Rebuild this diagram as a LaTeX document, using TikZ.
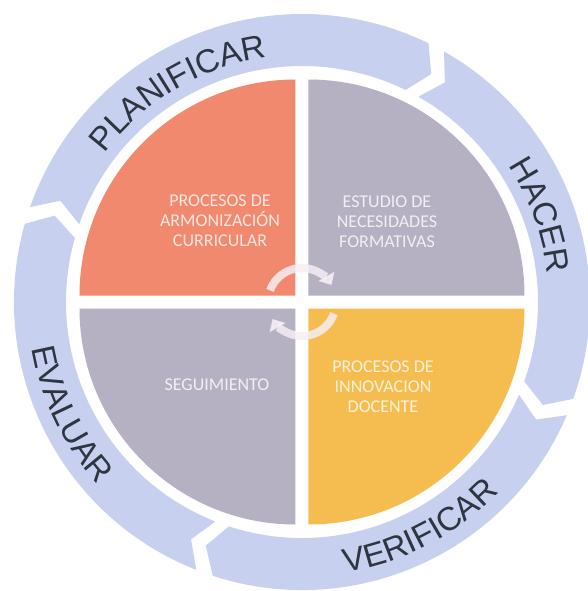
\documentclass[tikz,border=0pt]{standalone}
\usepackage{fontspec}
\usepackage{tikz}
\usetikzlibrary{arrows.meta, decorations.text}
\newfontfamily\ringfont{Liberation Sans}
\newfontfamily\quadfont{Carlito}
\definecolor{ringblue}{HTML}{C7D0EF}
\definecolor{salmonquad}{HTML}{F0896D}
\definecolor{slatequad}{HTML}{B5B1C2}
\definecolor{amberquad}{HTML}{F5BD50}
\definecolor{inkslate}{HTML}{2E3440}
\definecolor{paleloop}{HTML}{F6EEF4}

\tikzset{
  chevron/.style={fill=ringblue},
  quadlabel/.style={white, opacity=0.8, font=\quadfont\fontsize{9}{10}\selectfont, align=center},
  ringword/.style={decorate, decoration={text along path, text align=center, text color=inkslate,
      text={|\ringfont\fontsize{16.5}{18}\selectfont|#1}}},
  loopbend/.style={paleloop, opacity=0.85, line width=4pt, -{Triangle[length=5pt, width=9pt]}},
}

\begin{document}
\begin{tikzpicture}[x=0.5pt, y=0.5pt]
  % Page frame, same size as the reference
  \fill[white] (-302,-289) rectangle (286,302);
  \useasboundingbox (-302,-289) rectangle (286,302);

  % Outer ring - four chevrons running clockwise
  \foreach \tail/\head in {162.5/62.2, 62.2/-21.4, -21.4/-109.8, -109.8/-197.5} {
    \pgfmathsetmacro\tc{\tail-1.75}
    \pgfmathsetmacro\tn{\tail-5.25}
    \pgfmathsetmacro\hc{\head+1.75}
    \pgfmathsetmacro\ht{\head-1.75}
    \fill[chevron] (\tc:288) arc[start angle=\tc, end angle=\hc, radius=288]
      -- (\ht:262) -- (\hc:236) arc[start angle=\hc, end angle=\tc, radius=236]
      -- (\tn:262) -- cycle;
  }

  % Ring words
  \path[ringword=PLANIFICAR] (160.6:247) arc[start angle=160.6, end angle=80.6, radius=247];
  \path[ringword=HACER] (60:247) arc[start angle=60, end angle=-20, radius=247];
  \path[ringword=VERIFICAR] (-102.4:274) arc[start angle=-102.4, end angle=-22.4, radius=274];
  \path[ringword=EVALUAR] (-194.2:274) arc[start angle=-194.2, end angle=-114.2, radius=274];

  % Four quadrants, pulled apart by a white cross
  \fill[salmonquad] (-6.5,6.5) -- ++(-216,0) arc[start angle=180, end angle=90, radius=216] -- cycle;
  \fill[slatequad] (6.5,6.5) -- ++(0,216) arc[start angle=90, end angle=0, radius=216] -- cycle;
  \fill[amberquad] (6.5,-6.5) -- ++(216,0) arc[start angle=0, end angle=-90, radius=216] -- cycle;
  \fill[slatequad] (-6.5,-6.5) -- ++(0,-216) arc[start angle=270, end angle=180, radius=216] -- cycle;

  % Quadrant labels
  \node[quadlabel] (armonizacion) at (-82,81) {PROCESOS DE\\ARMONIZACIÓN\\CURRICULAR};
  \node[quadlabel] (necesidades) at (85,80) {ESTUDIO DE\\NECESIDADES\\FORMATIVAS};
  \node[quadlabel] (seguimiento) at (-85,-83) {SEGUIMIENTO};
  \node[quadlabel] (innovacion) at (81,-85) {PROCESOS DE\\INNOVACION\\DOCENTE};

  % Small loop in the middle
  \draw[loopbend] (160:34) arc[start angle=160, end angle=30, radius=34];
  \draw[loopbend] (-20:34) arc[start angle=-20, end angle=-150, radius=34];
\end{tikzpicture}
\end{document}
